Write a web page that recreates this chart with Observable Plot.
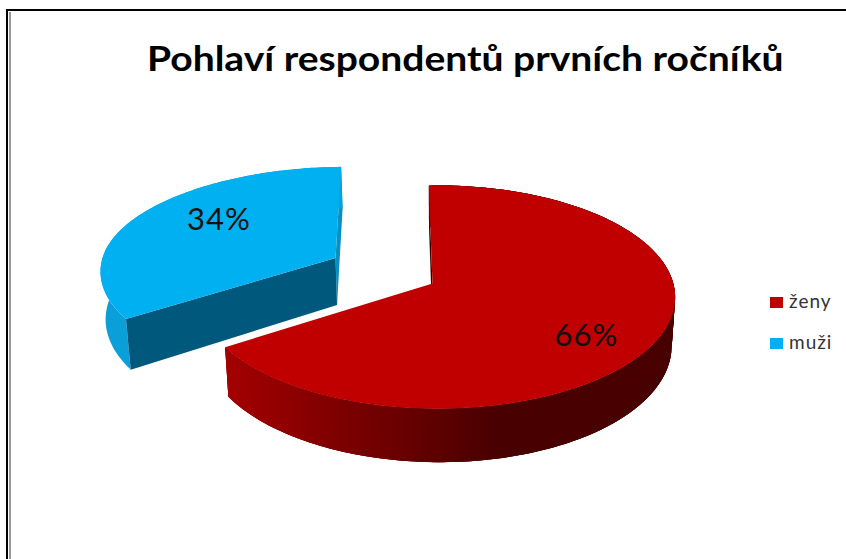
<!DOCTYPE html>
<html><head><meta charset="utf-8">
<script src="https://cdn.jsdelivr.net/npm/d3@7"></script>
<script src="https://cdn.jsdelivr.net/npm/@observablehq/plot@0.6"></script>
<style>
html,body{margin:0;background:#fff;overflow:hidden}
#c{position:relative;width:846px;height:559px;overflow:hidden}
#f1{position:absolute;left:6px;top:9px;width:840px;height:550px;border-left:2px solid #000;border-top:2px solid #000;box-sizing:border-box}
#f2{position:absolute;left:9px;top:12px;width:2px;height:547px;background:#999}
#t{position:absolute;left:147px;top:36px;font:bold 35px Lato,sans-serif;color:#000;white-space:nowrap;transform:scaleX(1.115);transform-origin:left center}
.l{position:absolute;left:789px;font:19px Lato,sans-serif;color:#333;white-space:nowrap;letter-spacing:1px}
.s{position:absolute;left:770px;width:13px;height:11px}
svg{position:absolute;left:0;top:0}
</style></head><body><div id="c"></div>
<script>
const chartTitle = "Pohlaví respondentů prvních ročníků";
const categories = ["ženy", "muži"];
const shares = [66, 34];
const colors = ["#c00000", "#00b0f0"];

// Pie layout: perspective ellipse per (exploded) slice.
const layout = [
  {ax:432,ay:283,R:236,S:110,p:.121,q:.02,s:0,start:-1,lu:.609,lv:-.45},
  {ax:335,ay:257.5,R:233,S:103,p:.13,q:0,s:10.4,start:236.6,lu:-.526,lv:.39}
];
const D = 47, X0 = 440, K = .985;
const rad = Math.PI/180;
function face(l,th,r=1){
  const u=r*Math.sin(th*rad), v=r*Math.cos(th*rad), w=1+l.p*v-l.q*u;
  return [l.ax+(l.R*u+l.s*Math.max(0,v)**2)/w, l.ay-l.S*v/w, w];
}
function bot(pt){ return [X0+K*(pt[0]-X0), pt[1]+D/pt[2]]; }
const rows=[]; let id=0;
function poly(pts,color){ id++; for(const p of pts) rows.push({x:p[0],y:p[1],id,color}); }
const redShade = x => { const t=Math.max(0,Math.min(1,(x-225)/(500-225))); return d3.interpolateRgb("#a30000","#480000")(t); };

shares.forEach((v,i)=>{
  const l=layout[i], sweep=v*3.6, a0=l.start, a1=a0+sweep, n=Math.round(sweep);
  const A=face(l,0,0), Ab=bot(A), ths=d3.range(n+1).map(k=>a0+sweep*k/n);
  const Sp=face(l,a0), Ep=face(l,a1);
  if(i===0){
    poly([Sp,bot(Sp),Ab,A],"#3a0000");
    // rim strips, each overlapping the next one, painted towards the left tip
    ths.slice(0,-1).forEach((t,k)=>{
      const a=face(l,t), b=face(l,ths[k+1]), o=face(l,Math.min(a1,ths[k+1]+2));
      poly([a,b,o,bot(o),bot(b),bot(a)],redShade((a[0]+b[0])/2));
    });
  } else {
    poly([Ep,bot(Ep),Ab,A],"#0a8fc0");
    poly([...ths.map(t=>face(l,t)),...ths.slice().reverse().map(t=>bot(face(l,t)))],"#0a9fd8");
    poly([A,Sp,bot(Sp),Ab],"#00587c");
  }
  poly([A,...ths.map(t=>face(l,t))],colors[i]);
});

const labels = shares.map((v,i)=>{
  const l=layout[i], w=1+l.p*l.lv-l.q*l.lu;
  return {x:l.ax+l.R*l.lu/w, y:l.ay-l.S*l.lv/w, text:v+"%"};
});

const chart = Plot.plot({
  width:846,height:559,margin:0,
  x:{domain:[0,846],range:[0,846],axis:null},
  y:{domain:[0,559],range:[0,559],axis:null},
  color:{type:"identity"},
  style:{background:"transparent"},
  marks:[
    Plot.line(rows,{x:"x",y:"y",z:"id",fill:"color"}),
    Plot.text(labels,{x:"x",y:"y",text:"text",fontSize:31,fontFamily:"Lato, sans-serif",fill:"#111"})
  ]
});
d3.select(chart).selectAll("text").attr("letter-spacing","1px");
const c=document.getElementById("c");
c.innerHTML='<div id="f1"></div><div id="f2"></div>';
c.appendChild(chart);
const t=document.createElement("div");t.id="t";t.textContent=chartTitle;c.appendChild(t);
categories.forEach((k,i)=>{
  const s=document.createElement("div");s.className="s";s.style.top=(297+41*i)+"px";s.style.background=colors[i];c.appendChild(s);
  const d=document.createElement("div");d.className="l";d.textContent=k;d.style.top=(289+41*i)+"px";c.appendChild(d);
});
</script></body></html>
